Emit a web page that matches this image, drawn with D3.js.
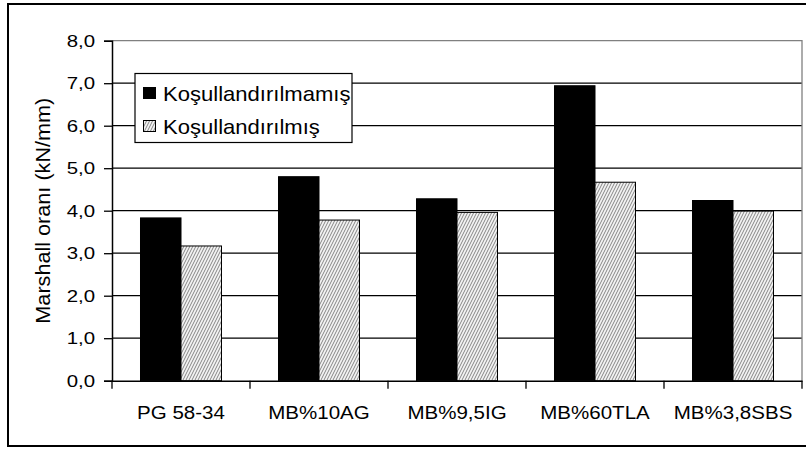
<!DOCTYPE html>
<html><head><meta charset="utf-8">
<script src="https://cdn.jsdelivr.net/npm/d3@7"></script>
<style>body{margin:0;background:#fff}svg{display:block}text{font-family:"Liberation Sans",Arial,sans-serif;fill:#000}</style>
</head><body>
<svg id="c" width="806" height="449"></svg>
<script>
const categories = ["PG 58-34","MB%10AG","MB%9,5IG","MB%60TLA","MB%3,8SBS"];
const seriesNames = ["Koşullandırılmamış","Koşullandırılmış"];
const unconditioned = [3.83, 4.80, 4.28, 6.94, 4.24];
const conditioned = [3.17, 3.78, 3.96, 4.67, 3.99];
const yTicks = [0,1,2,3,4,5,6,7,8];
const yTitle = "Marshall oranı (kN/mm)";

const svg = d3.select("#c");
const defs = svg.append("defs");
const pat = defs.append("pattern").attr("id","hatch").attr("patternUnits","userSpaceOnUse")
  .attr("width",3).attr("height",6);
pat.append("rect").attr("width",3).attr("height",6).attr("fill","#f2f2f2");
pat.append("path").attr("d","M-1,8 L3,0 M-4,8 L0,0 M2,8 L6,0").attr("stroke","#6a6a6a").attr("stroke-width",0.8);

function stretch(sel, f){
  sel.each(function(){
    const n = this.getComputedTextLength();
    d3.select(this).attr("textLength", n*f).attr("lengthAdjust","spacingAndGlyphs");
  });
}

// outer frame
svg.append("rect").attr("x",8).attr("y",4).attr("width",820).attr("height",442)
  .attr("fill","none").attr("stroke","#000").attr("stroke-width",2);

const L=112, R=802, T=40.7, B=380.7;
const x0 = d3.scaleBand().domain(categories).range([L,R]).paddingInner(0).paddingOuter(0);
const bw = x0.bandwidth();
const gap = bw*0.2065;
const x1 = d3.scaleBand().domain(seriesNames).range([gap, bw-gap]).padding(0);
const y = d3.scaleLinear().domain([0,8]).range([B,T]);

// gridlines
svg.append("g").selectAll("line").data(yTicks.filter(d=>d>0 && d<8)).join("line")
  .attr("x1",L).attr("x2",R).attr("y1",d=>y(d)).attr("y2",d=>y(d))
  .attr("stroke","#000").attr("stroke-width",1.2);
// plot border top/right grey
svg.append("path").attr("d",`M${L},${y(8)}H${R}V${B}`).attr("fill","none").attr("stroke","#808080").attr("stroke-width",1.3);

// bars
const data = categories.map((c,i)=>({c, vals:[unconditioned[i], conditioned[i]]}));
const g = svg.append("g").selectAll("g").data(data).join("g").attr("transform",d=>`translate(${x0(d.c)},0)`);
g.selectAll("rect").data(d=>d.vals.map((v,j)=>({s:seriesNames[j],v,j}))).join("rect")
  .attr("x",d=>x1(d.s)).attr("width",x1.bandwidth())
  .attr("y",d=>y(d.v)).attr("height",d=>y(0)-y(d.v))
  .attr("fill",d=>d.j===0?"#000":"url(#hatch)").attr("stroke","#000").attr("stroke-width",1);

// y axis
const ya = svg.append("g").attr("transform",`translate(${L},0)`)
  .call(d3.axisLeft(y).tickValues(yTicks).tickSize(8).tickPadding(9).tickFormat(d=>d3.format(".1f")(d).replace(".",",")));
ya.select(".domain").attr("stroke","#000").attr("stroke-width",1.5);
ya.selectAll(".tick line").attr("stroke","#000").attr("stroke-width",1.3);
ya.selectAll("text").style("font-size","17px").attr("fill","#000").call(stretch,1.2);

// x axis
const xa = svg.append("g").attr("transform",`translate(0,${B})`)
  .call(d3.axisBottom(x0).tickSize(0).tickPadding(25.5));
xa.select(".domain").attr("stroke","#000").attr("stroke-width",1.5);
xa.selectAll("text").style("font-size","18px").attr("fill","#000").call(stretch,1.14);
svg.append("g").selectAll("line").data(d3.range(categories.length+1)).join("line")
  .attr("x1",i=>L+i*bw).attr("x2",i=>L+i*bw).attr("y1",B).attr("y2",B+8)
  .attr("stroke","#000").attr("stroke-width",1.3);

// title
svg.append("text").attr("transform",`translate(50,${(T+B)/2}) rotate(-90)`)
  .attr("text-anchor","middle").style("font-size","21px").text(yTitle).call(stretch,1.03);

// legend
const lg = svg.append("g");
lg.append("rect").attr("x",135).attr("y",73.5).attr("width",217).attr("height",69)
  .attr("fill","#fff").attr("stroke","#000").attr("stroke-width",1.2);
const li = lg.selectAll("g").data(seriesNames).join("g").attr("transform",(d,i)=>`translate(0,${93+i*33})`);
li.append("rect").attr("x",143.5).attr("y",-5.5).attr("width",12).attr("height",11)
  .attr("fill",(d,i)=>i===0?"#000":"url(#hatch)").attr("stroke","#000").attr("stroke-width",1);
li.append("text").attr("x",163).attr("y",7.5).style("font-size","21px").text(d=>d).call(stretch,1.05);
</script>
</body></html>
